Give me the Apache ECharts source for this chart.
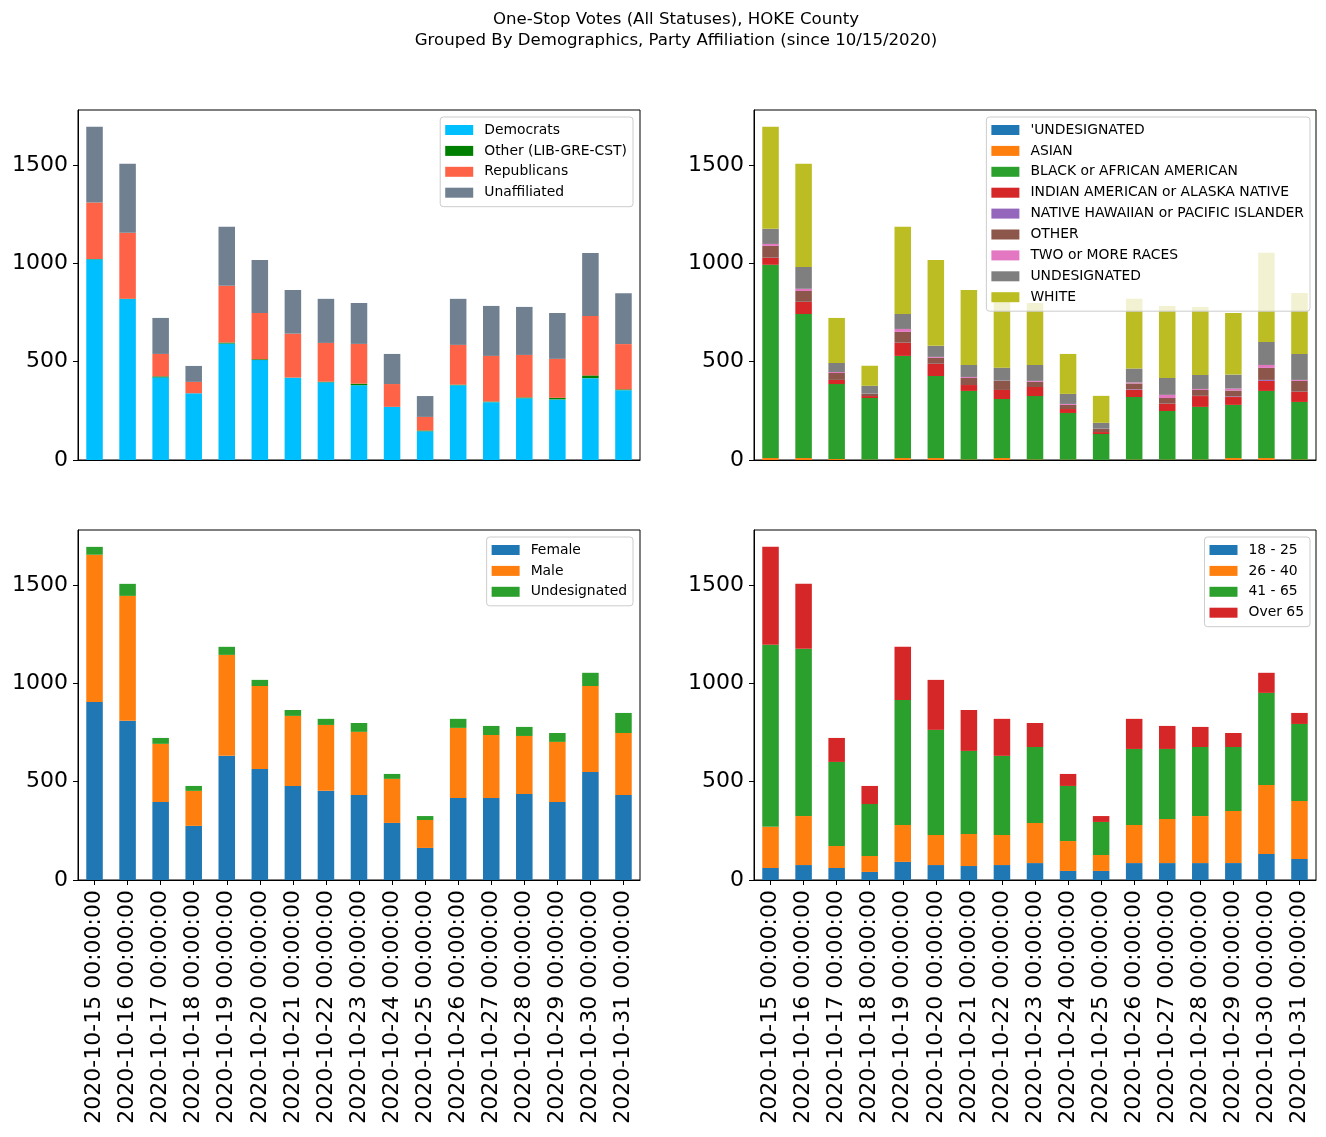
<!DOCTYPE html>
<html>
<head>
<meta charset="utf-8">
<script src="https://cdn.jsdelivr.net/npm/echarts@6/dist/echarts.min.js"></script>
<style>
html,body{margin:0;padding:0;background:#fff;}
#chart{width:1326px;height:1137px;}
</style>
</head>
<body>
<div id="chart"></div>
<script>
const dates = ["2020-10-15 00:00:00","2020-10-16 00:00:00","2020-10-17 00:00:00","2020-10-18 00:00:00","2020-10-19 00:00:00","2020-10-20 00:00:00","2020-10-21 00:00:00","2020-10-22 00:00:00","2020-10-23 00:00:00","2020-10-24 00:00:00","2020-10-25 00:00:00","2020-10-26 00:00:00","2020-10-27 00:00:00","2020-10-28 00:00:00","2020-10-29 00:00:00","2020-10-30 00:00:00","2020-10-31 00:00:00"];

const yTicks = [0, 500, 1000, 1500];
const titleLines = ["One-Stop Votes (All Statuses), HOKE County", "Grouped By Demographics, Party Affiliation (since 10/15/2020)"];

// Party affiliation
const partyNames = ["Democrats", "Other (LIB-GRE-CST)", "Republicans", "Unaffiliated"];
const democrats    = [1020, 818, 420, 339, 592, 508, 418, 395, 380, 270, 146, 380, 294, 314, 308, 416, 355];
const otherParty   = [2, 2, 5, 0, 5, 4, 1, 3, 8, 0, 4, 3, 3, 4, 8, 14, 4];
const republicans  = [287, 335, 114, 58, 289, 235, 223, 197, 202, 116, 69, 202, 232, 216, 198, 302, 230];
const unaffiliated = [385, 350, 183, 81, 299, 270, 222, 224, 208, 153, 106, 234, 254, 244, 233, 320, 259];

// Race
const raceNames = ["'UNDESIGNATED", "ASIAN", "BLACK or AFRICAN AMERICAN", "INDIAN AMERICAN or ALASKA NATIVE", "NATIVE HAWAIIAN or PACIFIC ISLANDER", "OTHER", "TWO or MORE RACES", "UNDESIGNATED", "WHITE"];
const raceUndesQ = [0, 0, 0, 0, 0, 0, 0, 0, 0, 0, 0, 0, 0, 0, 0, 0, 0];
const asian      = [10, 10, 5, 2, 10, 10, 3, 10, 3, 2, 1, 2, 2, 2, 10, 10, 3];
const black      = [982, 732, 381, 313, 519, 417, 348, 300, 322, 237, 131, 318, 247, 268, 270, 341, 292];
const indian     = [35, 61, 21, 10, 66, 61, 30, 46, 46, 20, 10, 36, 36, 55, 40, 51, 51];
const hawaiian   = [1, 1, 0, 0, 1, 1, 0, 0, 0, 0, 0, 3, 1, 1, 3, 5, 1];
const raceOther  = [60, 55, 35, 11, 55, 30, 36, 46, 26, 21, 16, 30, 29, 30, 30, 61, 55];
const twoOrMore  = [10, 11, 5, 1, 15, 5, 5, 1, 5, 5, 1, 5, 16, 5, 10, 15, 5];
const raceUndes  = [77, 111, 46, 40, 76, 56, 61, 66, 81, 51, 30, 71, 86, 71, 71, 117, 132];
const white      = [518, 524, 229, 102, 443, 437, 381, 351, 315, 203, 137, 354, 366, 346, 313, 453, 310];

// Gender
const genderNames = ["Female", "Male", "Undesignated"];
const female      = [905, 809, 397, 275, 631, 564, 478, 453, 432, 290, 163, 417, 417, 437, 397, 549, 432];
const male        = [748, 635, 295, 178, 513, 422, 356, 335, 321, 224, 142, 356, 320, 295, 305, 437, 315];
const genderUndes = [40, 61, 30, 25, 41, 31, 30, 31, 45, 25, 20, 46, 46, 46, 45, 67, 102];

// Age
const ageNames = ["18 - 25", "26 - 40", "41 - 65", "Over 65"];
const age18to25 = [61, 76, 61, 41, 92, 76, 71, 76, 86, 46, 46, 86, 86, 86, 86, 132, 107];
const age26to40 = [209, 249, 112, 81, 188, 153, 163, 153, 204, 152, 81, 194, 224, 239, 265, 351, 295];
const age41to65 = [925, 850, 427, 264, 635, 534, 422, 402, 386, 280, 168, 386, 356, 351, 325, 468, 391];
const ageOver65 = [498, 330, 122, 92, 270, 254, 208, 188, 122, 61, 30, 153, 117, 102, 71, 102, 56];

const partyColors = ["#00BFFF", "#008000", "#FF6347", "#708090"];
const tab10 = ["#1f77b4", "#ff7f0e", "#2ca02c", "#d62728", "#9467bd", "#8c564b", "#e377c2", "#7f7f7f", "#bcbd22"];

const groups = [
  {names: partyNames, arrays: [democrats, otherParty, republicans, unaffiliated], colors: partyColors},
  {names: raceNames, arrays: [raceUndesQ, asian, black, indian, hawaiian, raceOther, twoOrMore, raceUndes, white], colors: tab10},
  {names: genderNames, arrays: [female, male, genderUndes], colors: tab10},
  {names: ageNames, arrays: [age18to25, age26to40, age41to65, ageOver65], colors: tab10}
];

// axis top = 1.05 * tallest stacked bar (matplotlib default margin)
let maxTotal = 0;
groups.forEach(g => {
  for (let i = 0; i < dates.length; i++) {
    let s = 0; g.arrays.forEach(a => s += a[i]);
    if (s > maxTotal) maxTotal = s;
  }
});
const yMax = maxTotal * 1.05;

const FONT = "DejaVu Sans";
const gridPos = [
  {left: 78, top: 110},
  {left: 754, top: 110},
  {left: 78, top: 530},
  {left: 754, top: 530}
];
const legendPos = [
  {right: 693, top: 117},
  {right: 16, top: 117},
  {right: 693, top: 537},
  {right: 16, top: 537}
];

const grids = gridPos.map(p => ({left: p.left, top: p.top, width: 562, height: 350, show: true, borderColor: "#000", borderWidth: 1, backgroundColor: "transparent"}));

const xAxes = gridPos.map((p, i) => ({
  type: "category", gridIndex: i, data: dates,
  axisLine: {show: true, lineStyle: {color: "#000", width: 1}},
  axisTick: {show: i >= 2, alignWithLabel: true, length: 5, lineStyle: {color: "#000", width: 1}},
  axisLabel: {show: i >= 2, rotate: 90, fontSize: 22, fontFamily: FONT, color: "#000", margin: 10, interval: 0}
}));

const yAxes = gridPos.map((p, i) => ({
  type: "value", gridIndex: i, min: 0, max: yMax,
  splitLine: {show: false},
  axisLine: {show: true, lineStyle: {color: "#000", width: 1}},
  axisTick: {show: true, length: 5, lineStyle: {color: "#000", width: 1}, customValues: yTicks},
  axisLabel: {fontSize: 22, fontFamily: FONT, color: "#000", margin: 10, customValues: yTicks, formatter: v => String(Math.round(v))}
}));

const series = [];
groups.forEach((g, gi) => {
  g.names.forEach((n, k) => {
    series.push({
      name: n, type: "bar", stack: "s" + gi,
      xAxisIndex: gi, yAxisIndex: gi,
      barWidth: "50%",
      data: g.arrays[k],
      itemStyle: {color: g.colors[k]},
      emphasis: {disabled: true}
    });
  });
});

const legends = groups.map((g, gi) => ({
  orient: "vertical", right: legendPos[gi].right, top: legendPos[gi].top,
  data: g.names, icon: "rect", itemWidth: 28, itemHeight: 10, itemGap: 6.9,
  padding: [6, 6, 7, 5],
  backgroundColor: "rgba(255,255,255,0.8)", borderColor: "#cccccc", borderWidth: 1, borderRadius: 3,
  selectedMode: false,
  textStyle: {fontSize: 13.9, fontFamily: FONT, color: "#000", lineHeight: 14, padding: [0, 0, 0, 6]}
}));

const titles = titleLines.map((t, i) => ({
  text: t, left: 676, textAlign: "center", top: 10 + i * 21, padding: 0,
  textStyle: {fontSize: 16.6, fontWeight: "normal", fontFamily: FONT, color: "#000", lineHeight: 20}
}));

const chart = echarts.init(document.getElementById("chart"), null, {renderer: "canvas"});
chart.setOption({
  animation: false,
  backgroundColor: "#fff",
  title: titles,
  legend: legends,
  grid: grids,
  xAxis: xAxes,
  yAxis: yAxes,
  series: series
});
</script>
</body>
</html>
